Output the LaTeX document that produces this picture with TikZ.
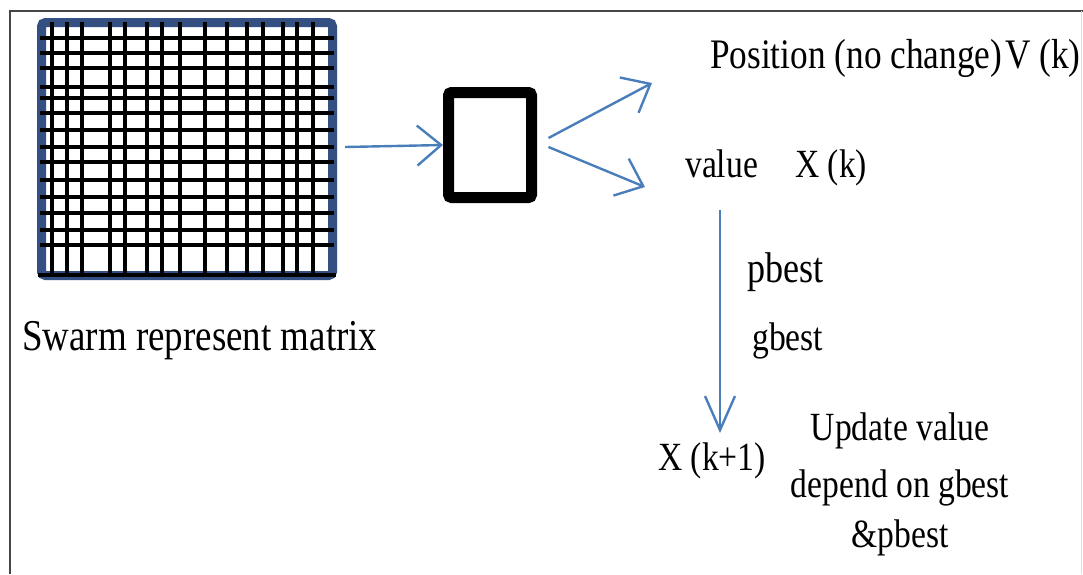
\documentclass[tikz,border=0pt]{standalone}
\usepackage{fontspec}
\newfontfamily\tnr{Liberation Serif}
\usetikzlibrary{arrows.meta,calc}
\definecolor{arrowblue}{RGB}{74,126,187}
\definecolor{matblue}{RGB}{52,80,130}
\definecolor{framegray}{RGB}{70,70,70}
\newcommand{\nar}[1]{\scalebox{0.84}[1]{\tnr #1}}
\begin{document}
\begin{tikzpicture}[x=1pt,y=-1pt,
  lbl/.style={inner sep=0pt,anchor=base west,font=\fontsize{40}{46}\selectfont},
  lblc/.style={inner sep=0pt,anchor=base,font=\fontsize{40}{46}\selectfont},
  flow/.style={draw=arrowblue,line width=2.4pt,-{Straight Barb[length=24pt,width=40pt,line width=2.4pt]}},
  down/.style={draw=arrowblue,line width=2.4pt,-{Straight Barb[length=34pt,width=30pt,line width=2.4pt]}},
  gridline/.style={draw=black,line width=3.2pt}]
\useasboundingbox (0,0) rectangle (1083,574);
\fill[white] (0,0) rectangle (1083,574);
% frame
\draw[framegray,line width=2pt] (10,574) -- (10,11) -- (1083,11);
\draw[black!12,line width=1pt] (1081,11) -- (1081,574);
% matrix
\node[draw=matblue,line width=9pt,rounded corners=4pt,minimum width=291pt,minimum height=253pt,inner sep=0pt] (mat) at (187,149) {};
\foreach \gx in {52,67,82,110,125,147,162,180,205,227,247,263,283,297,313}
  \draw[gridline] (\gx,22) -- (\gx,277);
\foreach \gy in {38,53,68,87,98,113,130,147,162,180,197,213,230,245}
  \draw[gridline] (40,\gy) -- (334,\gy);
\draw[black,line width=4pt] (38,275) -- (336,275);
\node[lbl,font=\fontsize{44}{50}\selectfont] (swarm) at (22,350) {\nar{Swarm represent matrix}};
% box
\node[draw=black,line width=11pt,rounded corners=3pt,minimum width=83pt,minimum height=105pt,inner sep=0pt] (box) at (490,145) {};
\draw[flow] ($(mat.east)+(8,-2)$) -- (box.west);
% labels
\node[lbl,font=\fontsize{42}{48}\selectfont] (pos) at (710,68) {\nar{Position (no change)}};
\node[lbl,font=\fontsize{42}{48}\selectfont] (vk) at (1005,68) {\nar{V (k)}};
\node[lbl] (value) at (685,177) {\nar{value}};
\node[lbl] (xk) at (795,177) {\nar{X (k)}};
\node[lbl,font=\fontsize{43}{48}\selectfont] (pbest) at (747,282) {\nar{pbest}};
\node[lbl] (gbest) at (752,350) {\nar{gbest}};
\node[lbl] (xk1) at (658,470) {\nar{X (k+1)}};
\node[lblc] (upd1) at (900,440) {\nar{Update value}};
\node[lblc] (upd2) at (900,497) {\nar{depend on gbest}};
\node[lblc] (upd3) at (900,547) {\nar{\&pbest}};
% connectors
\coordinate (tipA) at (652,83);
\coordinate (tipB) at (645,187);
\coordinate (vtop) at (720,210);
\coordinate (vbot) at (720,433);
\draw[flow] ($(box.east)+(11.5,-7)$) -- (tipA);
\draw[flow] ($(box.east)+(11.5,2)$) -- (tipB);
\draw[down] (vtop) -- (vbot);
\end{tikzpicture}
\end{document}
